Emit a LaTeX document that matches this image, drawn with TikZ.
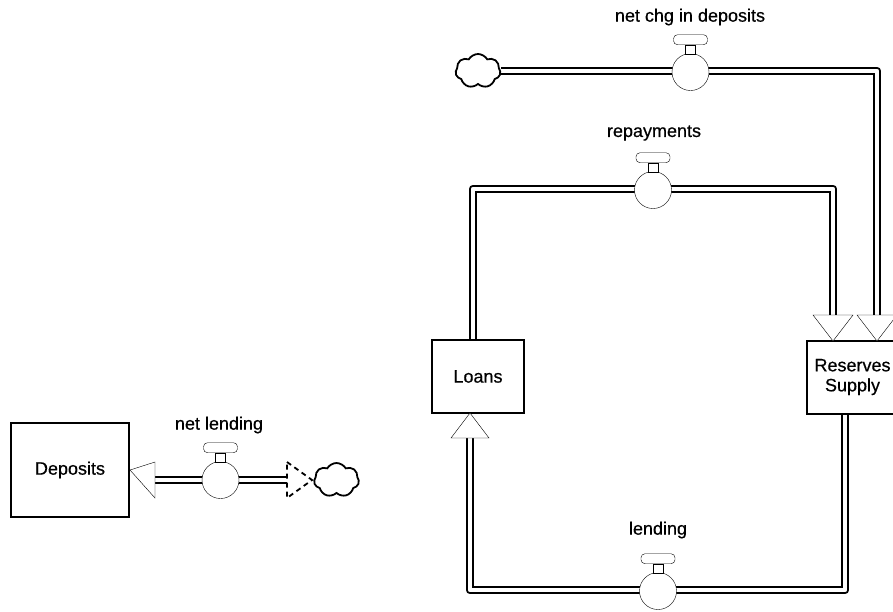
\documentclass[tikz,border=0pt]{standalone}
\usepackage{fontspec}
\setmainfont{Liberation Sans}
\newfontfamily\lblfont[FakeBold=0.5]{Liberation Sans}
\usetikzlibrary{shapes.symbols,backgrounds}
\begin{document}
\begin{tikzpicture}[x=1pt,y=-1pt,line width=2pt,
  txt/.style={font=\lblfont\fontsize{18}{21}\selectfont},
  stock/.style={draw,fill=white,minimum width=92pt,minimum height=73pt,inner sep=0pt,align=center,txt},
  pipe/.style={draw,double,double distance=4.8pt,line width=1.8pt,line join=round},
  valvebody/.style={circle,draw,fill=white,minimum size=37pt,inner sep=0pt},
  stemshape/.style={draw,fill=white,minimum width=10pt,minimum height=9pt,inner sep=0pt},
  handleshape/.style={draw,fill=white,rounded corners=4pt,minimum width=34pt,minimum height=10pt,inner sep=0pt},
  head/.style={draw,fill=white,line join=miter},
  dashhead/.style={draw,fill=white,dashed,dash pattern=on 5pt off 4pt,line width=1.8pt},
  cloudshape/.style={cloud,cloud puffs=7,cloud puff arc=120,aspect=1.3,draw,fill=white,minimum width=45pt,minimum height=34pt,inner sep=0pt,line width=1.8pt},
  lbl/.style={txt}
]
\clip (0,0) rectangle (893,611);

% stocks
\node[stock,minimum width=118pt,minimum height=94pt] (dep) at (70,470) {Deposits};
\node[stock] (loans) at (478,376.5) {Loans};
\node[stock] (res) at (852.5,377) {Reserves\\[-1pt]Supply};

% clouds
\node[cloudshape] (c1) at (478,71) {};
\node[cloudshape] (c4) at (336.5,480) {};

% pipe coordinates
\coordinate (b1) at (877,315);
\coordinate (t1) at (877,341);
\coordinate (k2) at (833,189);
\coordinate (b2) at (833,315);
\coordinate (t2) at (833,341);
\coordinate (k3) at (470,590);
\coordinate (b3) at (470,438);
\coordinate (t3) at (470,413);
\coordinate (b4) at (155,480);
\coordinate (e4) at (287,480);
\coordinate (t4) at (312,480);

\begin{pgfonlayer}{background}
  \draw[pipe] (c1.east) -| (b1);
  \draw[pipe] ([xshift=-5pt]loans.north) |- (k2) -- (b2);
  \draw[pipe] ([xshift=-7.5pt]res.south) |- (k3) -- (b3);
  \draw[pipe] (b4) -- (e4);
\end{pgfonlayer}

% arrowheads
\draw[head] (t1) -- ([xshift=-20pt]b1) -- ([xshift=20pt]b1) -- cycle;
\draw[head] (t2) -- ([xshift=-20pt]b2) -- ([xshift=20pt]b2) -- cycle;
\draw[head] (t3) -- ([xshift=-19pt]b3) -- ([xshift=19pt]b3) -- cycle;
\draw[head] (dep.east) -- ([yshift=18pt]b4) -- ([yshift=-18pt]b4) -- cycle;
\draw[dashhead] ([yshift=18pt]e4) -- (t4) -- ([yshift=-18pt]e4) -- cycle;

% valves
\node[valvebody] (v1) at (690.5,72) {};
\node[stemshape,anchor=south] (v1s) at ([yshift=-1pt]v1.north) {};
\node[handleshape,anchor=south] (v1h) at (v1s.north) {};
\node[lbl] (l1) at (690,17) {net chg in deposits};

\node[valvebody] (v2) at (653,190) {};
\node[stemshape,anchor=south] (v2s) at ([yshift=-1pt]v2.north) {};
\node[handleshape,anchor=south] (v2h) at (v2s.north) {};
\node[lbl] (l2) at (654,133) {repayments};

\node[valvebody] (v3) at (658,591) {};
\node[stemshape,anchor=south] (v3s) at ([yshift=-1pt]v3.north) {};
\node[handleshape,anchor=south] (v3h) at (v3s.north) {};
\node[lbl] (l3) at (658,530) {lending};

\node[valvebody] (v4) at (220.5,480) {};
\node[stemshape,anchor=south] (v4s) at ([yshift=-1pt]v4.north) {};
\node[handleshape,anchor=south] (v4h) at (v4s.north) {};
\node[lbl] (l4) at (219,425) {net lending};
\end{tikzpicture}
\end{document}
